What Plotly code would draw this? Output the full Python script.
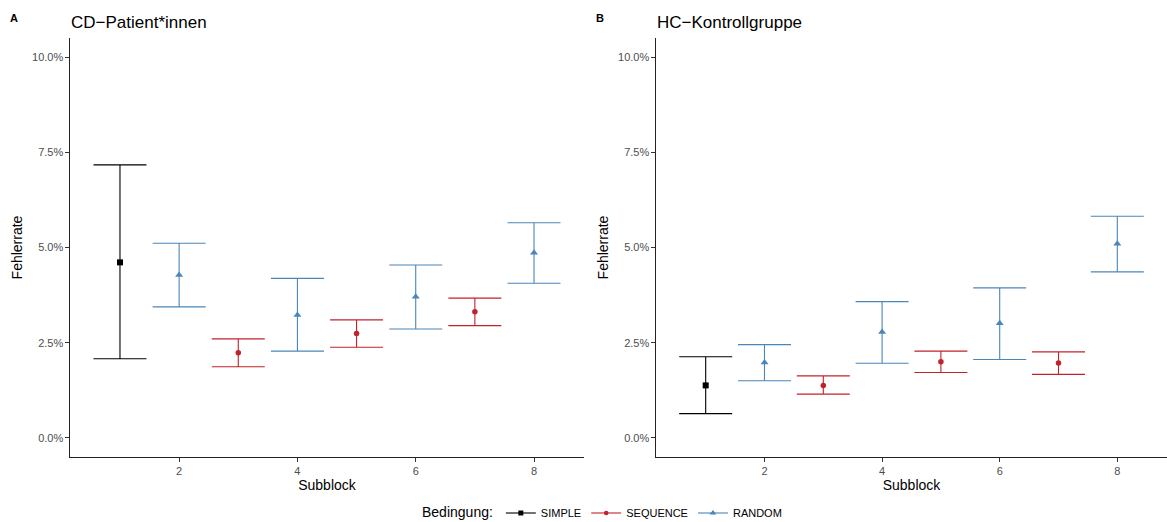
import plotly.graph_objects as go

# ---------------- data ----------------
subblock = [1, 2, 3, 4, 5, 6, 7, 8]
condition = ["SIMPLE", "RANDOM", "SEQUENCE", "RANDOM", "SEQUENCE", "RANDOM", "SEQUENCE", "RANDOM"]

# CD patients (percent)
cd_mean = [4.61, 4.28, 2.24, 3.23, 2.74, 3.71, 3.31, 4.86]
cd_low = [2.08, 3.44, 1.87, 2.28, 2.38, 2.86, 2.95, 4.06]
cd_high = [7.17, 5.11, 2.60, 4.19, 3.10, 4.54, 3.67, 5.65]

# HC controls (percent)
hc_mean = [1.38, 1.98, 1.38, 2.78, 2.00, 3.01, 1.97, 5.10]
hc_low = [0.64, 1.50, 1.15, 1.96, 1.72, 2.06, 1.67, 4.36]
hc_high = [2.13, 2.45, 1.63, 3.58, 2.28, 3.94, 2.26, 5.82]

conditions = ["SIMPLE", "SEQUENCE", "RANDOM"]
colors = {"SIMPLE": "#000000", "SEQUENCE": "#C0232B", "RANDOM": "#4A86BA"}
symbols = {"SIMPLE": "square", "SEQUENCE": "circle", "RANDOM": "triangle-up"}
msize = {"SIMPLE": 6, "SEQUENCE": 5.5, "RANDOM": 7}

y_ticks = [0, 2.5, 5, 7.5, 10]
y_ticktext = [f"{v:.1f}%" for v in y_ticks]
x_ticks = [2, 4, 6, 8]

FONT = "Liberation Sans, Arial, sans-serif"
W, H = 1167, 522

fig = go.Figure()

panels = [
    ("x", "y", cd_mean, cd_low, cd_high),
    ("x2", "y2", hc_mean, hc_low, hc_high),
]

for xa, ya, mean, low, high in panels:
    for cond in conditions:
        idx = [i for i, c in enumerate(condition) if c == cond]
        xs = [subblock[i] for i in idx]
        ys = [mean[i] for i in idx]
        up = [high[i] - mean[i] for i in idx]
        dn = [mean[i] - low[i] for i in idx]
        fig.add_trace(go.Scatter(
            x=xs, y=ys, xaxis=xa, yaxis=ya, mode="markers",
            marker=dict(symbol=symbols[cond], size=msize[cond], color=colors[cond]),
            error_y=dict(type="data", symmetric=False, array=up, arrayminus=dn,
                         color=colors[cond], thickness=1.1, width=26.5),
            showlegend=False, legendgroup=cond, name=cond,
        ))

# legend keys
for cond in conditions:
    fig.add_trace(go.Scatter(
        x=[None], y=[None], mode="lines+markers", name=cond, legendgroup=cond,
        marker=dict(symbol=symbols[cond], size=msize[cond] - 1, color=colors[cond]),
        line=dict(color=colors[cond], width=1.1),
        showlegend=True,
    ))

xdom1 = [70 / W, 584 / W]
xdom2 = [656 / W, 1.0]
ydom = [1 - 457 / H, 1 - 38 / H]

axis_common = dict(
    showgrid=False, zeroline=False, showline=True, linecolor="#222222", linewidth=1.1,
    ticks="outside", ticklen=3.5, tickwidth=1.1, tickcolor="#333333",
    tickfont=dict(family=FONT, size=11, color="#4D4D4D"), automargin=False,
)

fig.update_layout(
    width=W, height=H,
    margin=dict(l=0, r=0, t=0, b=0, autoexpand=False),
    paper_bgcolor="white", plot_bgcolor="white",
    font=dict(family=FONT, color="#000000"),
    xaxis=dict(domain=xdom1, range=[0.155, 8.845], tickvals=x_ticks, anchor="y",
               title=dict(text="Subblock", font=dict(family=FONT, size=14), standoff=2),
               **axis_common),
    yaxis=dict(domain=ydom, range=[-0.5, 10.5], tickvals=y_ticks, ticktext=y_ticktext,
               anchor="x",
               title=dict(text="Fehlerrate", font=dict(family=FONT, size=14), standoff=6),
               **axis_common),
    xaxis2=dict(domain=xdom2, range=[0.155, 8.845], tickvals=x_ticks, anchor="y2",
                title=dict(text="Subblock", font=dict(family=FONT, size=14), standoff=2),
                **axis_common),
    yaxis2=dict(domain=ydom, range=[-0.5, 10.5], tickvals=y_ticks, ticktext=y_ticktext,
                anchor="x2",
                title=dict(text="Fehlerrate", font=dict(family=FONT, size=14), standoff=6),
                **axis_common),
    legend=dict(
        orientation="h", x=0.5 + 20 / W, xanchor="center", y=1 - 513 / H, yanchor="middle",
        title=dict(text="Bedingung:", side="left", font=dict(family=FONT, size=14)),
        font=dict(family=FONT, size=11), itemwidth=30, bgcolor="rgba(0,0,0,0)",
    ),
    annotations=[
        dict(text="<b>A</b>", x=14 / W, y=1 - 18 / H, xref="paper", yref="paper",
             xanchor="center", yanchor="middle", showarrow=False,
             font=dict(family=FONT, size=11)),
        dict(text="<b>B</b>", x=600 / W, y=1 - 18 / H, xref="paper", yref="paper",
             xanchor="center", yanchor="middle", showarrow=False,
             font=dict(family=FONT, size=11)),
        dict(text="CD−Patient*innen", x=69 / W, y=1 - 22 / H, xref="paper", yref="paper",
             xanchor="left", yanchor="middle", showarrow=False,
             font=dict(family=FONT, size=17)),
        dict(text="HC−Kontrollgruppe", x=655 / W, y=1 - 22 / H, xref="paper", yref="paper",
             xanchor="left", yanchor="middle", showarrow=False,
             font=dict(family=FONT, size=17)),
    ],
)

fig.write_html("out.html")
